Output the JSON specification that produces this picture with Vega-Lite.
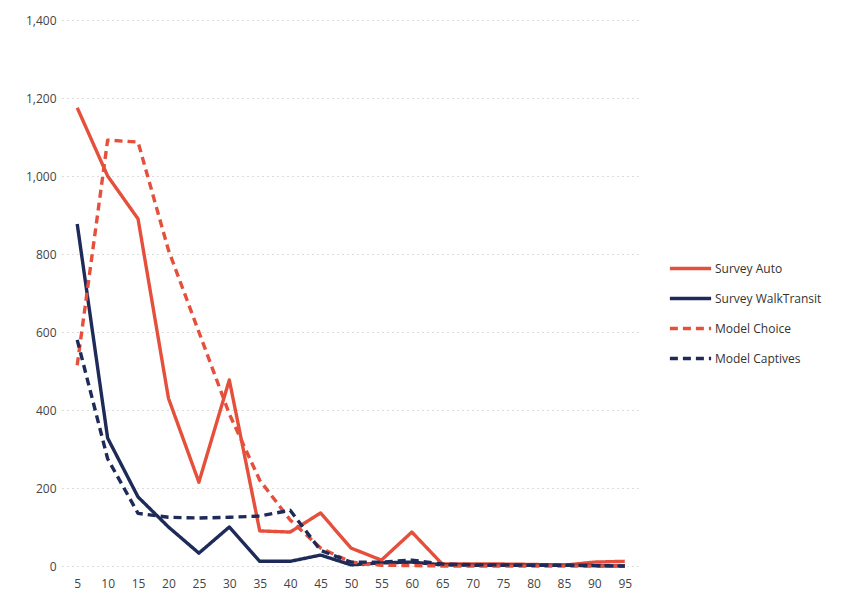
{
  "$schema": "https://vega.github.io/schema/vega-lite/v6.json",
  "width": 578,
  "height": 546,
  "autosize": {"type": "none"},
  "padding": {"left": 62, "top": 20, "right": 206, "bottom": 44},
  "background": "white",
  "data": {
    "values": [
      {"x": 5, "s": "Survey Auto", "v": 1175},
      {"x": 10, "s": "Survey Auto", "v": 1000},
      {"x": 15, "s": "Survey Auto", "v": 890},
      {"x": 20, "s": "Survey Auto", "v": 430},
      {"x": 25, "s": "Survey Auto", "v": 215},
      {"x": 30, "s": "Survey Auto", "v": 477},
      {"x": 35, "s": "Survey Auto", "v": 90},
      {"x": 40, "s": "Survey Auto", "v": 87},
      {"x": 45, "s": "Survey Auto", "v": 136},
      {"x": 50, "s": "Survey Auto", "v": 46},
      {"x": 55, "s": "Survey Auto", "v": 15},
      {"x": 60, "s": "Survey Auto", "v": 87},
      {"x": 65, "s": "Survey Auto", "v": 5},
      {"x": 70, "s": "Survey Auto", "v": 5},
      {"x": 75, "s": "Survey Auto", "v": 5},
      {"x": 80, "s": "Survey Auto", "v": 4},
      {"x": 85, "s": "Survey Auto", "v": 2},
      {"x": 90, "s": "Survey Auto", "v": 10},
      {"x": 95, "s": "Survey Auto", "v": 12},
      {"x": 5, "s": "Survey WalkTransit", "v": 877},
      {"x": 10, "s": "Survey WalkTransit", "v": 328},
      {"x": 15, "s": "Survey WalkTransit", "v": 177},
      {"x": 20, "s": "Survey WalkTransit", "v": 100},
      {"x": 25, "s": "Survey WalkTransit", "v": 33},
      {"x": 30, "s": "Survey WalkTransit", "v": 100},
      {"x": 35, "s": "Survey WalkTransit", "v": 12},
      {"x": 40, "s": "Survey WalkTransit", "v": 12},
      {"x": 45, "s": "Survey WalkTransit", "v": 28},
      {"x": 50, "s": "Survey WalkTransit", "v": 3},
      {"x": 55, "s": "Survey WalkTransit", "v": 8},
      {"x": 60, "s": "Survey WalkTransit", "v": 10},
      {"x": 65, "s": "Survey WalkTransit", "v": 3},
      {"x": 70, "s": "Survey WalkTransit", "v": 2},
      {"x": 75, "s": "Survey WalkTransit", "v": 2},
      {"x": 80, "s": "Survey WalkTransit", "v": 2},
      {"x": 85, "s": "Survey WalkTransit", "v": 2},
      {"x": 90, "s": "Survey WalkTransit", "v": 1},
      {"x": 95, "s": "Survey WalkTransit", "v": 0},
      {"x": 5, "s": "Model Choice", "v": 515},
      {"x": 10, "s": "Model Choice", "v": 1092},
      {"x": 15, "s": "Model Choice", "v": 1087},
      {"x": 20, "s": "Model Choice", "v": 810},
      {"x": 25, "s": "Model Choice", "v": 600},
      {"x": 30, "s": "Model Choice", "v": 390},
      {"x": 35, "s": "Model Choice", "v": 220},
      {"x": 40, "s": "Model Choice", "v": 118},
      {"x": 45, "s": "Model Choice", "v": 46},
      {"x": 50, "s": "Model Choice", "v": 10},
      {"x": 55, "s": "Model Choice", "v": 2},
      {"x": 60, "s": "Model Choice", "v": 1},
      {"x": 65, "s": "Model Choice", "v": 0},
      {"x": 70, "s": "Model Choice", "v": 0},
      {"x": 75, "s": "Model Choice", "v": 0},
      {"x": 80, "s": "Model Choice", "v": 0},
      {"x": 85, "s": "Model Choice", "v": 0},
      {"x": 90, "s": "Model Choice", "v": 0},
      {"x": 95, "s": "Model Choice", "v": 0},
      {"x": 5, "s": "Model Captives", "v": 580},
      {"x": 10, "s": "Model Captives", "v": 275},
      {"x": 15, "s": "Model Captives", "v": 135},
      {"x": 20, "s": "Model Captives", "v": 125},
      {"x": 25, "s": "Model Captives", "v": 123},
      {"x": 30, "s": "Model Captives", "v": 125},
      {"x": 35, "s": "Model Captives", "v": 128},
      {"x": 40, "s": "Model Captives", "v": 143},
      {"x": 45, "s": "Model Captives", "v": 40},
      {"x": 50, "s": "Model Captives", "v": 10},
      {"x": 55, "s": "Model Captives", "v": 10},
      {"x": 60, "s": "Model Captives", "v": 15},
      {"x": 65, "s": "Model Captives", "v": 5},
      {"x": 70, "s": "Model Captives", "v": 3},
      {"x": 75, "s": "Model Captives", "v": 3},
      {"x": 80, "s": "Model Captives", "v": 2},
      {"x": 85, "s": "Model Captives", "v": 2},
      {"x": 90, "s": "Model Captives", "v": 1},
      {"x": 95, "s": "Model Captives", "v": 0}
    ]
  },
  "mark": {"type": "line", "strokeWidth": 3.4, "strokeJoin": "round"},
  "encoding": {
    "x": {
      "field": "x",
      "type": "ordinal",
      "scale": {"type": "point", "padding": 0.5},
      "axis": {
        "title": null,
        "labelAngle": 0,
        "ticks": false,
        "domain": false,
        "grid": false,
        "labelPadding": 12,
        "labelFont": "Open Sans",
        "labelFontSize": 12,
        "labelColor": "#444"
      }
    },
    "y": {
      "field": "v",
      "type": "quantitative",
      "scale": {"domain": [0, 1400], "nice": false},
      "axis": {
        "title": null,
        "values": [0, 200, 400, 600, 800, 1000, 1200, 1400],
        "format": ",.0f",
        "ticks": false,
        "domain": false,
        "gridColor": "#bbbbbb",
        "gridDash": [1, 4],
        "gridWidth": 1,
        "labelPadding": 6,
        "labelFont": "Open Sans",
        "labelFontSize": 12,
        "labelColor": "#444"
      }
    },
    "color": {
      "field": "s",
      "type": "nominal",
      "sort": ["Survey Auto", "Survey WalkTransit", "Model Choice", "Model Captives"],
      "scale": {
        "domain": ["Survey Auto", "Survey WalkTransit", "Model Choice", "Model Captives"],
        "range": ["#e5503c", "#1e2a58", "#e5503c", "#1e2a58"]
      },
      "legend": {
        "title": null,
        "orient": "none",
        "legendX": 606,
        "legendY": 226,
        "symbolType": "stroke",
        "symbolSize": 1700,
        "symbolStrokeWidth": 3.4,
        "rowPadding": -14.7,
        "labelOffset": 2,
        "labelFont": "Open Sans",
        "labelFontSize": 12,
        "labelColor": "#333"
      }
    },
    "strokeDash": {
      "field": "s",
      "type": "nominal",
      "sort": ["Survey Auto", "Survey WalkTransit", "Model Choice", "Model Captives"],
      "scale": {
        "domain": ["Survey Auto", "Survey WalkTransit", "Model Choice", "Model Captives"],
        "range": [[1, 0], [1, 0], [8, 5], [8, 5]]
      },
      "legend": {
        "title": null,
        "orient": "none",
        "legendX": 606,
        "legendY": 226,
        "symbolType": "stroke",
        "symbolSize": 1700,
        "symbolStrokeWidth": 3.4,
        "rowPadding": -14.7,
        "labelOffset": 2,
        "labelFont": "Open Sans",
        "labelFontSize": 12,
        "labelColor": "#333"
      }
    }
  },
  "config": {"view": {"stroke": null}}
}
